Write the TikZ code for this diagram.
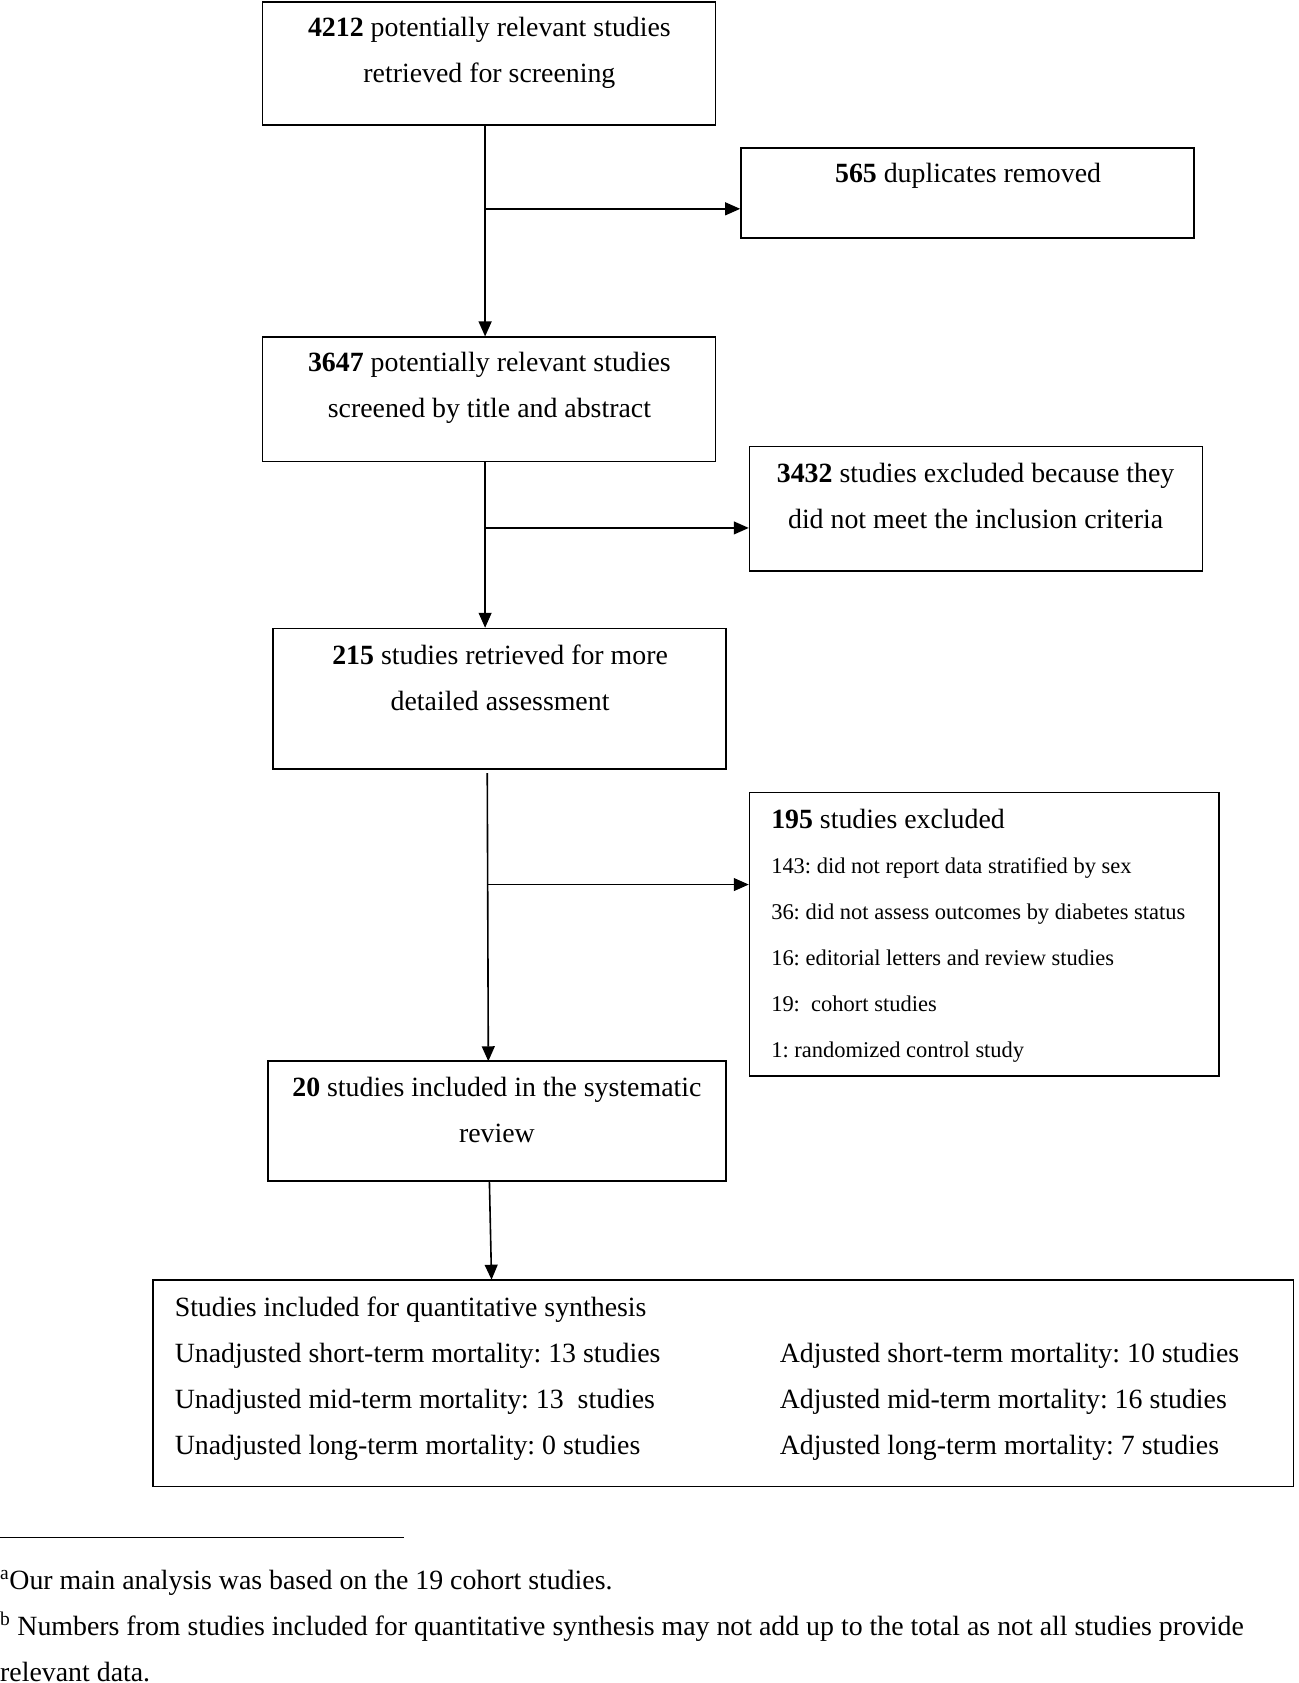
\documentclass[tikz,border=0pt]{standalone}
\usepackage{fontspec}
\setmainfont{Liberation Serif}
\frenchspacing
\usetikzlibrary{arrows.meta,positioning}

\begin{document}
\begin{tikzpicture}[x=1pt, y=-1pt,
    box/.style={draw, line width=1.6pt, inner sep=0pt},
    txt/.style={align=center, inner sep=0pt, anchor=north, font=\fontsize{26}{43}\selectfont},
    flow/.style={line width=1.5pt, -{Triangle[length=14pt, width=12pt]}}]
    \useasboundingbox (0,0) rectangle (1213,1571.6);

    % boxes
    \node (retrieved) [box, minimum width=423pt, minimum height=115pt] at (456.5, 59.5) {};
    \node (duplicates) [box, minimum width=423pt, minimum height=84pt] at (903.5, 180) {};
    \node (screened) [box, minimum width=423pt, minimum height=116pt] at (456.5, 373) {};
    \node (notmet) [box, minimum width=423pt, minimum height=116pt] at (911.5, 475) {};
    \node (assessed) [box, minimum width=423pt, minimum height=131pt] at (466.5, 652.5) {};
    \node (excluded) [box, minimum width=438pt, minimum height=265pt] at (919, 872.5) {};
    \node (included) [box, minimum width=428pt, minimum height=112pt] at (464, 1047) {};
    \node (synthesis) [box, minimum width=1065pt, minimum height=193pt] at (675.5, 1291.5) {};

    % texts
    \node (retrieved-t) [txt] at (457, 16) {\textbf{4212} potentially relevant studies\\retrieved for screening};
    \node (duplicates-t) [txt] at (904, 152) {\textbf{565} duplicates removed};
    \node (screened-t) [txt] at (457, 329) {\textbf{3647} potentially relevant studies\\screened by title and abstract};
    \node (notmet-t) [txt] at (911, 432) {\textbf{3432} studies excluded because they\\did not meet the inclusion criteria};
    \node (assessed-t) [txt] at (467, 602) {\textbf{215} studies retrieved for more\\detailed assessment};
    \node (excluded-t) [txt, align=left, anchor=north west, font=\fontsize{21}{42.8}\selectfont] at (720, 755)
        {{\fontsize{26}{43}\selectfont\textbf{195} studies excluded}\\
         143: did not report data stratified by sex\\
         36: did not assess outcomes by diabetes status\\
         16: editorial letters and review studies\\
         19:\ \ cohort studies\\
         1: randomized control study};
    \node (included-t) [txt] at (464, 1006) {\textbf{20} studies included in the systematic\\review};
    \node (unadjusted-t) [txt, align=left, anchor=north west] at (163, 1211)
        {Studies included for quantitative synthesis\\
         Unadjusted short-term mortality: 13 studies\\
         Unadjusted mid-term mortality: 13\ \ studies\\
         Unadjusted long-term mortality: 0 studies};
    \node (adjusted-t) [txt, align=left, anchor=north west] at (728, 1254)
        {Adjusted short-term mortality: 10 studies\\
         Adjusted mid-term mortality: 16 studies\\
         Adjusted long-term mortality: 7 studies};

    % connectors
    \coordinate (split1) at (453, 195);
    \coordinate (split2) at (453, 493);
    \coordinate (split3) at (455, 826);
    \draw[flow] (retrieved.south -| split1) -- (screened.north -| split1);
    \draw[flow] (split1) -- (split1 -| duplicates.west);
    \draw[flow] (screened.south -| split2) -- (assessed.north -| split2);
    \draw[flow] (split2) -- (split2 -| notmet.west);
    \coordinate (from-assessed) at (455, 722);
    \coordinate (to-included) at (456, 991);
    \draw[flow] (from-assessed) -- (to-included);
    \draw[flow] (split3) -- (split3 -| excluded.west);
    \coordinate (from-included) at (457, 1103);
    \coordinate (to-synthesis) at (459, 1195);
    \draw[flow] (from-included) -- (to-synthesis);

    % footnotes
    \coordinate (rule-start) at (0, 1436);
    \coordinate (rule-end) at (377, 1436);
    \draw[line width=1pt] (rule-start) -- (rule-end);
    \node (notes) [txt, align=left, anchor=north west] at (0, 1466)
        {\textsuperscript{a}Our main analysis was based on the 19 cohort studies.\\
         \textsuperscript{b} Numbers from studies included for quantitative synthesis may not add up to the total as not all studies provide\\
         relevant data.};
\end{tikzpicture}
\end{document}
